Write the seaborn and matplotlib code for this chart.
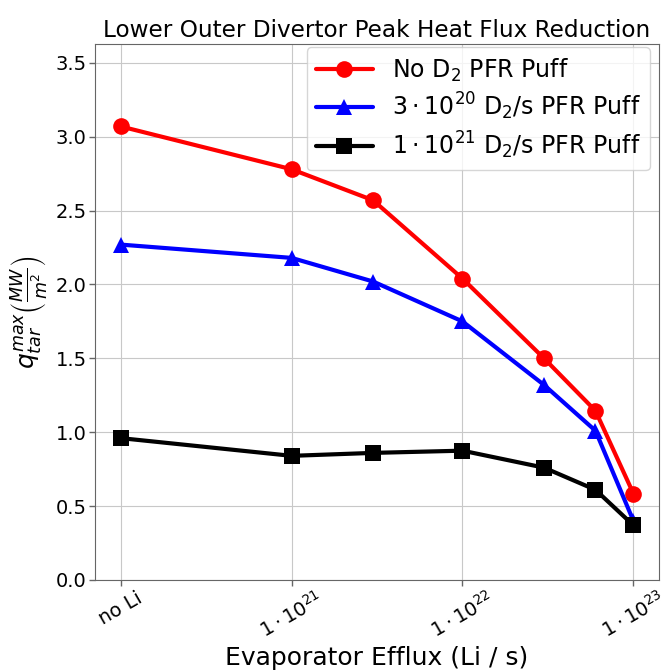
import matplotlib
matplotlib.use("Agg")
import matplotlib.pyplot as plt
import seaborn as sns
import pandas as pd

efflux = [1e20, 1e21, 3e21, 1e22, 3e22, 6e22, 1e23]
tick_pos = [1e20, 1e21, 1e22, 1e23]
tick_labels = ["no Li", r"$1\cdot10^{21}$", r"$1\cdot10^{22}$", r"$1\cdot10^{23}$"]

series_names = [r"No D$_2$ PFR Puff",
                r"$3\cdot10^{20}$ D$_2$/s PFR Puff",
                r"$1\cdot10^{21}$ D$_2$/s PFR Puff"]
no_puff = [3.07, 2.78, 2.57, 2.04, 1.50, 1.145, 0.585]
puff_3e20 = [2.27, 2.18, 2.02, 1.75, 1.32, 1.01, 0.40]
puff_1e21 = [0.96, 0.84, 0.86, 0.875, 0.76, 0.61, 0.37]

rows = []
for name, vals in zip(series_names, [no_puff, puff_3e20, puff_1e21]):
    for x, v in zip(efflux, vals):
        rows.append({"efflux": x, "q": v, "series": name})
df = pd.DataFrame(rows)

sns.set_style("white")
plt.rcParams["font.family"] = ["DejaVu Sans"]
plt.rcParams["axes.edgecolor"] = "#666666"
plt.rcParams["text.color"] = "black"
plt.rcParams["axes.labelcolor"] = "black"
plt.rcParams["xtick.color"] = "#666666"
plt.rcParams["ytick.color"] = "#666666"
plt.rcParams["xtick.labelcolor"] = "black"
plt.rcParams["ytick.labelcolor"] = "black"

fig = plt.figure(figsize=(6.62, 6.72), dpi=100)
ax = fig.add_axes([0.1435, 0.137, 0.852, 0.798])

palette = {series_names[0]: "red", series_names[1]: "blue", series_names[2]: "black"}
markers = {series_names[0]: "o", series_names[1]: "^", series_names[2]: "s"}
sns.lineplot(data=df, x="efflux", y="q", hue="series", style="series",
             palette=palette, markers=markers, dashes=False,
             hue_order=series_names, style_order=series_names,
             linewidth=3, markersize=12, markeredgewidth=0, ax=ax)

ax.set_xscale("log")
ax.set_xticks(tick_pos)
ax.set_xticklabels(tick_labels, rotation=30, fontsize=14)
ax.minorticks_off()
ax.set_ylim(0, 3.63)
ax.set_yticks([0.0, 0.5, 1.0, 1.5, 2.0, 2.5, 3.0, 3.5])
ax.set_yticklabels(["0.0", "0.5", "1.0", "1.5", "2.0", "2.5", "3.0", "3.5"], fontsize=14)
ax.tick_params(axis="both", which="major", length=4, width=1, pad=2, bottom=True, left=True)
ax.grid(True, color="#c8c8c8", linewidth=0.8)
ax.set_axisbelow(True)

ax.set_xlabel("Evaporator Efflux (Li / s)", fontsize=18, labelpad=3)
ax.set_ylabel(r"$q_{tar}^{max}\left(\frac{MW}{m^2}\right)$", fontsize=18)
ax.set_title("Lower Outer Divertor Peak Heat Flux Reduction", fontsize=16.7, pad=5)

leg = ax.legend(loc="upper right", bbox_to_anchor=(0.99, 1.0), borderaxespad=0.15,
                fontsize=17, handlelength=2.4, labelspacing=0.3, framealpha=0.8)
leg.set_title(None)

fig.savefig("out.png", dpi=100)
